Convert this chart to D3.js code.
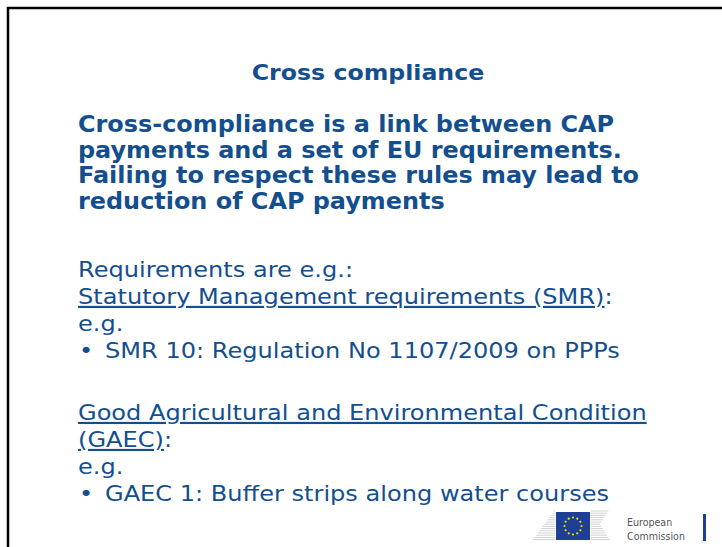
<!DOCTYPE html>
<html>
<head>
<meta charset="utf-8">
<script src="https://cdn.jsdelivr.net/npm/d3@7"></script>
<style>
  body { margin: 0; background: #fff; }
  svg text { font-family: "DejaVu Sans", Verdana, sans-serif; }
</style>
</head>
<body>
<svg id="slide" width="722" height="547"></svg>
<script>
// slide texts
var title = "Cross compliance";
var boldLines = [
  "Cross-compliance is a link between CAP",
  "payments and a set of EU requirements.",
  "Failing to respect these rules may lead to",
  "reduction of CAP payments"
];
// each line: [underlined part, plain part, bullet?]
var bodyLines = [
  ["", "Requirements are e.g.:", false],
  ["Statutory Management requirements (SMR)", ":", false],
  ["", "e.g.", false],
  ["", "SMR 10: Regulation No 1107/2009 on PPPs", true],
  ["Good Agricultural and Environmental Condition", "", false],
  ["(GAEC)", ":", false],
  ["", "e.g.", false],
  ["", "GAEC 1: Buffer strips along water courses", true]
];
var logoLines = ["European", "Commission"];

var blue = "#134f8f";
var svg = d3.select("#slide");

// frame (top + left)
svg.append("path")
    .attr("d", "M8,547V8H722")
    .attr("fill", "none")
    .attr("stroke", "#000")
    .attr("stroke-width", 2.5);

// Verdana is wider than DejaVu, stretch a bit
var sxTitle = 1.1, sxBold = 1.04, sxBody = 1.12;

svg.append("g")
    .attr("transform", "translate(368,80) scale(" + sxTitle + ",1)")
  .append("text")
    .attr("text-anchor", "middle")
    .attr("font-size", 21.5).attr("font-weight", "bold")
    .attr("fill", blue)
    .text(title);

var yBold = d3.scaleLinear().domain([0, 1]).range([132, 157.5]);
svg.selectAll("g.bold")
  .data(boldLines)
  .enter().append("g")
    .attr("class", "bold")
    .attr("transform", function(d, i) { return "translate(78," + yBold(i) + ") scale(" + sxBold + ",1)"; })
  .append("text")
    .attr("font-size", 23).attr("font-weight", "bold")
    .attr("fill", blue)
    .text(function(d) { return d; });

// second group starts after a gap of ~1.3 lines
var yBody = d3.scaleLinear().domain([0, 1]).range([277, 304]);
function bodyY(i) { return i < 4 ? yBody(i) : yBody(i + 1) + 8; }

var rows = svg.selectAll("g.body")
  .data(bodyLines)
  .enter().append("g")
    .attr("class", "body")
    .attr("transform", function(d, i) { return "translate(78," + bodyY(i) + ") scale(" + sxBody + ",1)"; })
  .append("text")
    .attr("font-size", 21.5)
    .attr("fill", blue);
rows.filter(function(d) { return d[2]; })
  .append("tspan")
    .attr("x", 1)
    .text("•");
rows.filter(function(d) { return d[0] !== ""; })
  .append("tspan")
    .attr("text-decoration", "underline")
    .text(function(d) { return d[0]; });
rows.append("tspan")
    .attr("x", function(d) { return d[2] ? 27 / sxBody : null; })
    .text(function(d) { return d[1]; });

// EC logo
var logo = svg.append("g").attr("transform", "translate(528,511)");
var stripeY = d3.range(0, 30, 2.2);
logo.selectAll("line.l")
  .data(stripeY)
  .enter().append("line")
    .attr("x1", function(d, i) { return 26 - i * 1.6; }).attr("x2", 27)
    .attr("y1", function(d) { return d; }).attr("y2", function(d) { return d; })
    .attr("stroke", "#d2d2d2").attr("stroke-width", 1);
logo.selectAll("line.r")
  .data(stripeY)
  .enter().append("line")
    .attr("x1", 63).attr("x2", function(d, i) { return 72 + Math.abs(i - 6) * 1.4; })
    .attr("y1", function(d) { return d; }).attr("y2", function(d) { return d; })
    .attr("stroke", "#d2d2d2").attr("stroke-width", 1);
logo.append("rect")
    .attr("x", 28).attr("y", 1).attr("width", 34).attr("height", 28)
    .attr("fill", "#1d3f94");
var stars = d3.range(12);
logo.selectAll("circle")
  .data(stars)
  .enter().append("circle")
    .attr("cx", function(d) { return 45 + 8.5 * Math.cos(d * Math.PI / 6); })
    .attr("cy", function(d) { return 15 + 8.5 * Math.sin(d * Math.PI / 6); })
    .attr("r", 1.1)
    .attr("fill", "#ffdd00");
svg.selectAll("g.logo")
  .data(logoLines)
  .enter().append("g")
    .attr("class", "logo")
    .attr("transform", function(d, i) { return "translate(627," + (526 + i * 14) + ") scale(0.88,1)"; })
  .append("text")
    .attr("font-size", 10.8)
    .attr("fill", "#555")
    .text(function(d) { return d; });
svg.append("rect")
    .attr("x", 703).attr("y", 514).attr("width", 3).attr("height", 27)
    .attr("fill", "#1d3f94");
</script>
</body>
</html>
